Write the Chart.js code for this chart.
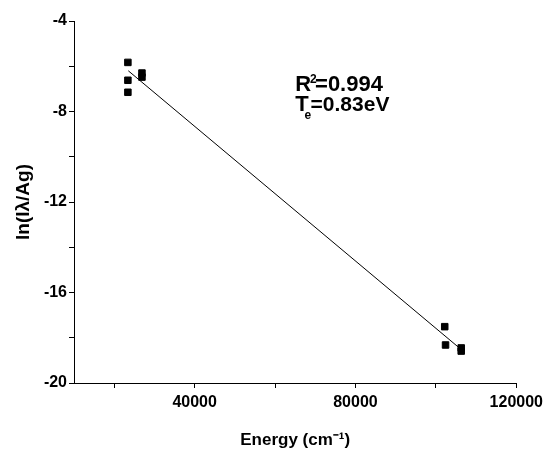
<!DOCTYPE html>
<html>
<head>
<meta charset="utf-8">
<script src="https://cdn.jsdelivr.net/npm/chart.js@4/dist/chart.umd.min.js"></script>
<style>
  html, body { margin: 0; padding: 0; background: #fff; }
  #wrap { width: 548px; height: 450px; position: relative; }
</style>
</head>
<body>
<div id="wrap"><canvas id="c" width="548" height="450"></canvas></div>
<script>
// ---- data ----
const energyX = [23400, 23400, 23400, 26900, 26900, 102200, 102400, 106300, 106300];
const lnY     = [-5.83, -6.62, -7.15, -6.30, -6.48, -17.51, -18.32, -18.45, -18.59];
const fitX    = [23500, 106500];
const fitY    = [-6.20, -18.55];
const xTickValues = [20000, 40000, 60000, 80000, 100000, 120000];
const xLabelValues = [40000, 80000, 120000];
const yTickValues = [-20, -18, -16, -14, -12, -10, -8, -6, -4];
const yLabelValues = [-20, -16, -12, -8, -4];
const xTitle = 'Energy (cm⁻¹)';
const yTitle = 'ln(Iλ/Ag)';
const fitStats = { r2: '0.994', te: '0.83eV' };

const FONT = '"Liberation Sans", Arial, sans-serif';

const points = energyX.map((x, i) => ({ x: x, y: lnY[i] }));
const fitLine = fitX.map((x, i) => ({ x: x, y: fitY[i] }));

const annotationPlugin = {
  id: 'fitText',
  afterDraw(chart) {
    const ctx = chart.ctx;
    const xs = chart.scales.x, ys = chart.scales.y;
    const x0 = xs.getPixelForValue(65000);
    const y1 = ys.getPixelForValue(-7.08);
    const y2 = ys.getPixelForValue(-7.98);
    ctx.save();
    ctx.fillStyle = '#000';
    ctx.textBaseline = 'alphabetic';
    ctx.textAlign = 'left';
    // R^2 = 0.994
    ctx.font = 'bold 22px ' + FONT;
    ctx.fillText('R', x0, y1);
    let w = ctx.measureText('R').width;
    ctx.font = 'bold 12px ' + FONT;
    ctx.fillText('2', x0 + w - 1, y1 - 8);
    ctx.font = 'bold 22px ' + FONT;
    ctx.fillText('=' + fitStats.r2, x0 + w + 4, y1);
    // T_e = 0.83eV
    ctx.font = 'bold 22px ' + FONT;
    ctx.fillText('T', x0, y2);
    w = ctx.measureText('T').width;
    ctx.font = 'bold 12px ' + FONT;
    ctx.fillText('e', x0 + w - 4, y2 + 8);
    ctx.font = 'bold 21px ' + FONT;
    ctx.fillText('=' + fitStats.te, x0 + w + 2, y2);
    ctx.restore();
  }
};

new Chart(document.getElementById('c'), {
  type: 'scatter',
  data: {
    datasets: [
      {
        label: 'data',
        data: points,
        pointStyle: 'rect',
        pointRadius: 4.6,
        pointBackgroundColor: '#000',
        pointBorderColor: '#000',
        pointBorderWidth: 1,
        showLine: false
      },
      {
        label: 'fit',
        data: fitLine,
        showLine: true,
        borderColor: '#000',
        borderWidth: 1,
        pointRadius: 0,
        fill: false
      }
    ]
  },
  options: {
    responsive: false,
    animation: false,
    devicePixelRatio: 1,
    layout: { padding: { top: 21, right: 31, left: 0, bottom: 0 } },
    plugins: { legend: { display: false }, tooltip: { enabled: false } },
    scales: {
      x: {
        type: 'linear',
        min: 10000,
        max: 120000,
        afterBuildTicks(scale) { scale.ticks = xTickValues.map(v => ({ value: v })); },
        afterFit(scale) { scale.height = 67; },
        border: { display: true, color: '#000', width: 1 },
        grid: { drawOnChartArea: false, drawTicks: true, tickLength: 5, color: '#000', lineWidth: 1 },
        ticks: {
          color: '#000',
          padding: 5,
          maxRotation: 0,
          autoSkip: false,
          font: { family: FONT, size: 16, weight: 'bold' },
          callback: (v) => xLabelValues.includes(v) ? String(v) : ''
        },
        title: {
          display: true,
          text: xTitle,
          color: '#000',
          font: { family: FONT, size: 17, weight: 'bold' },
          padding: { top: 0, bottom: -1 }
        }
      },
      y: {
        type: 'linear',
        min: -20,
        max: -4,
        afterBuildTicks(scale) { scale.ticks = yTickValues.map(v => ({ value: v })); },
        afterFit(scale) { scale.width = 74; },
        border: { display: true, color: '#000', width: 1 },
        grid: { drawOnChartArea: false, drawTicks: true, tickLength: 5, color: '#000', lineWidth: 1 },
        ticks: {
          color: '#000',
          padding: 2,
          autoSkip: false,
          font: { family: FONT, size: 16, weight: 'bold' },
          callback: (v) => yLabelValues.includes(v) ? String(v) : ''
        },
        title: {
          display: true,
          text: yTitle,
          color: '#000',
          font: { family: FONT, size: 19, weight: 'bold' },
          padding: { top: 12, bottom: 0 }
        }
      }
    }
  },
  plugins: [annotationPlugin]
});
</script>
</body>
</html>
